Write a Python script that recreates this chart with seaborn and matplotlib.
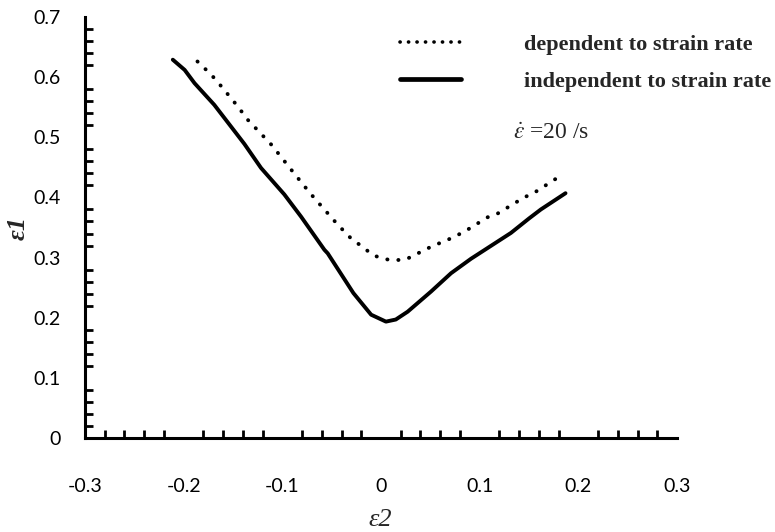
import numpy as np
import pandas as pd
import matplotlib
matplotlib.use("Agg")
import matplotlib.pyplot as plt
import seaborn as sns
from matplotlib.ticker import MultipleLocator

# ---- data ----
dep_x = [-0.186, -0.172, -0.162, -0.145, -0.135, -0.111, -0.0895, -0.0743, -0.0676, -0.044,
         -0.0287, -0.0203, -0.0135, -0.0068, 0.0084, 0.0203, 0.0253, 0.0507, 0.071, 0.0844,
         0.108, 0.118, 0.145, 0.155, 0.1857]
dep_y = [0.626, 0.604, 0.585, 0.551, 0.529, 0.4875, 0.443, 0.412, 0.399, 0.355,
         0.329, 0.320, 0.311, 0.303, 0.296, 0.296, 0.297, 0.318, 0.332, 0.343,
         0.367, 0.373, 0.400, 0.4075, 0.440]

ind_x = [-0.211, -0.199, -0.189, -0.169, -0.1385, -0.1216, -0.098, -0.081, -0.0574, -0.054,
         -0.028, -0.010, 0.005, 0.015, 0.027, 0.0507, 0.071, 0.0912, 0.1317, 0.150, 0.162, 0.187]
ind_y = [0.629, 0.612, 0.590, 0.554, 0.489, 0.449, 0.405, 0.368, 0.313, 0.307,
         0.241, 0.205, 0.1935, 0.197, 0.210, 0.2435, 0.274, 0.298, 0.341, 0.365, 0.380, 0.407]

x_ticks = [-0.3, -0.2, -0.1, 0, 0.1, 0.2, 0.3]
x_tick_labels = ["-0.3", "-0.2", "-0.1", "0", "0.1", "0.2", "0.3"]
y_ticks = [0, 0.1, 0.2, 0.3, 0.4, 0.5, 0.6, 0.7]
y_tick_labels = ["0", "0.1", "0.2", "0.3", "0.4", "0.5", "0.6", "0.7"]

label_dep = "dependent to strain rate"
label_ind = "independent to strain rate"

sns.set_style("white")
plt.rcParams["mathtext.fontset"] = "stix"

fig = plt.figure(figsize=(7.75, 5.32), dpi=100)
ax = fig.add_axes([85 / 775, 1 - 438 / 532, (677 - 85) / 775, (438 - 17) / 532])

df_dep = pd.DataFrame({"x": dep_x, "y": dep_y})
df_ind = pd.DataFrame({"x": ind_x, "y": ind_y})

sns.lineplot(data=df_dep, x="x", y="y", ax=ax, color="black", lw=2.8,
             linestyle=(0, (0.05, 2.8)), dash_capstyle="round", label=label_dep,
             sort=True)
sns.lineplot(data=df_ind, x="x", y="y", ax=ax, color="black", lw=2.8,
             label=label_ind, sort=True, solid_joinstyle="round", solid_capstyle="round")

ax.set_xlim(-0.3, 0.3)
ax.set_ylim(0, 0.7)
for s in ["top", "right"]:
    ax.spines[s].set_visible(False)
for s in ["left", "bottom"]:
    ax.spines[s].set_linewidth(2.2)
    ax.spines[s].set_color("black")

ax.set_xticks(x_ticks)
ax.set_xticklabels(x_tick_labels)
ax.set_yticks(y_ticks)
ax.set_yticklabels(y_tick_labels)
ax.xaxis.set_minor_locator(MultipleLocator(0.02))
ax.yaxis.set_minor_locator(MultipleLocator(0.02))
ax.tick_params(which="major", direction="inout", length=15, width=2, color="black")
ax.tick_params(which="minor", direction="in", length=6, width=2, color="black",
               bottom=True, left=True)
ax.tick_params(axis="x", which="major", pad=21)
ax.tick_params(axis="y", which="major", pad=10)
for lab in ax.get_xticklabels() + ax.get_yticklabels():
    lab.set_fontfamily("Lato")
    lab.set_fontsize(14)
    lab.set_color("black")

ax.set_xlabel("ε2", fontfamily="Liberation Serif", fontstyle="italic", fontsize=19)
ax.xaxis.set_label_coords((380 - 85) / 592, (438 - 520) / 421)
ax.xaxis.label.set_va("center")
ax.set_ylabel("ε1", fontfamily="Liberation Serif", fontstyle="italic", fontweight="bold",
              fontsize=19)
ax.yaxis.set_label_coords((18 - 85) / 592, (438 - 228) / 421)
ax.yaxis.label.set_va("center")
ax.grid(False)

leg = ax.legend(loc="upper left", bbox_to_anchor=(400 / 775, 1 - 34 / 532),
                bbox_transform=fig.transFigure, frameon=False, handlelength=2.75,
                handletextpad=2.85, labelspacing=0.75, borderpad=0, borderaxespad=0,
                prop={"family": "Liberation Serif", "weight": "bold", "size": 16})
hl = leg.get_lines()
hl[0].set_linewidth(2.6)
hl[0].set_linestyle((0, (0.05, 2.3)))
hl[0].set_dash_capstyle("round")
hl[1].set_linewidth(3.4)

ax.text(0.134, 0.506, r"$\dot{\varepsilon}$ =20 /s", fontfamily="Liberation Serif",
        fontsize=17, va="center", ha="left")

fig.savefig("out.png", dpi=100)
